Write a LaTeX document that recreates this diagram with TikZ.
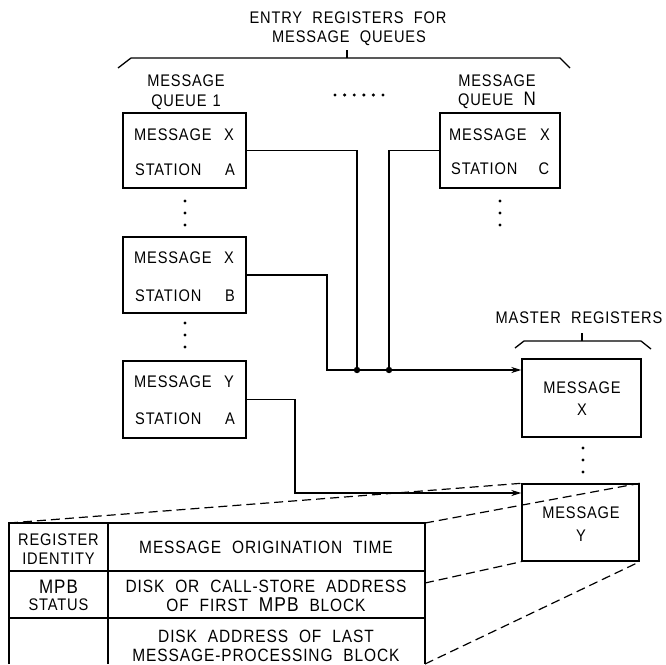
\documentclass[tikz,border=0pt]{standalone}
\usepackage{fontspec}
\setmainfont[LetterSpace=5,WordSpace=2.1,FakeStretch=0.87]{Liberation Sans}
\usetikzlibrary{arrows.meta}
\begin{document}
\begin{tikzpicture}[x=1pt,y=-1pt,
  box/.style={draw, line width=1.4pt, inner sep=0pt},
  lbl/.style={font=\fontsize{16.8}{18}\selectfont, inner sep=0pt},
  tlbl/.style={font=\fontsize{17.8}{19}\selectfont, inner sep=0pt},
  big/.style={font=\fontsize{19.5}{21}\selectfont, inner sep=0pt},
  wire/.style={line width=1.6pt},
  arr/.style={wire, -{Stealth[length=10pt,width=6pt]}},
  brc/.style={line width=1.3pt},
  tbl/.style={line width=1.3pt},
  dline/.style={line width=1.2pt, dash pattern=on 9pt off 5pt},
  vdot/.style={circle, fill, inner sep=0pt, minimum size=3.4pt}
]
\useasboundingbox (0,0) rectangle (666,664);

% header
\node[lbl] (h1) at (348,18) {ENTRY REGISTERS FOR};
\node[lbl] (h2) at (349,38) {MESSAGE QUEUES};
\draw[brc] (118,68) -- (131,58) -- (560,58) -- (570,68);
\draw[brc] (347,58) -- (347,50);

% queue labels
\node[lbl] (q1a) at (186,81) {MESSAGE};
\node[lbl] (q1b) at (186,102) {QUEUE\hspace{6pt}1};
\node[lbl] (qna) at (497,81) {MESSAGE};
\node[lbl] (qnb) at (497,100) {QUEUE {\fontsize{19.5}{21}\selectfont N}};

% horizontal dots
\foreach \i in {0,...,5} \node[vdot] (hd\i) at (335+9.6*\i,95) {};

% queue boxes
\node[box, minimum width=123pt, minimum height=75pt] (b1) at (184.5,150.5) {};
\node[box, minimum width=123pt, minimum height=76pt] (b2) at (184.5,275) {};
\node[box, minimum width=123pt, minimum height=77pt] (b3) at (184.5,399.5) {};
\node[box, minimum width=120pt, minimum height=75pt] (bN) at (500,150.5) {};

\node[lbl, anchor=west] (b1m) at (134,135) {MESSAGE};
\node[lbl] (b1x) at (229,135) {X};
\node[lbl, anchor=west] (b1s) at (135,170) {STATION};
\node[lbl] (b1y) at (230,170) {A};

\node[lbl, anchor=west] (b2m) at (134,258) {MESSAGE};
\node[lbl] (b2x) at (229,258) {X};
\node[lbl, anchor=west] (b2s) at (135,296) {STATION};
\node[lbl] (b2y) at (230,296) {B};

\node[lbl, anchor=west] (b3m) at (134,382) {MESSAGE};
\node[lbl] (b3x) at (229,382) {Y};
\node[lbl, anchor=west] (b3s) at (135,419) {STATION};
\node[lbl] (b3y) at (230,419) {A};

\node[lbl, anchor=west] (bNm) at (449,135) {MESSAGE};
\node[lbl] (bNx) at (545,135) {X};
\node[lbl, anchor=west] (bNs) at (451,169) {STATION};
\node[lbl] (bNy) at (544,169) {C};

% vertical dots
\foreach \y [count=\k] in {201,213,225} {
  \node[vdot] (va\k) at (185,\y) {};
  \node[vdot] (vn\k) at (500,\y) {};
}
\foreach \y [count=\k] in {323,335,347} \node[vdot] (vb\k) at (185,\y) {};
\foreach \y [count=\k] in {448,460,472} \node[vdot] (vm\k) at (583,\y) {};

% master registers
\node[lbl] (mr) at (579,318) {MASTER REGISTERS};
\draw[brc] (515,348) -- (524,341) -- (641,341) -- (651,349);
\draw[brc] (582,341) -- (582,333);
\node[box, minimum width=119pt, minimum height=78pt] (bX) at (581.5,398) {};
\node[lbl] (bXm) at (582,388) {MESSAGE};
\node[lbl] (bXx) at (582,410) {X};
\node[box, minimum width=117pt, minimum height=77pt] (bY) at (580.5,522.5) {};
\node[lbl] (bYm) at (581,513) {MESSAGE};
\node[lbl] (bYy) at (581,536) {Y};

% wires
\coordinate (j1) at (357,370);
\coordinate (j2) at (389,370);
\coordinate (c2) at (327,370);
\coordinate (c3) at (295,493);
\draw[wire] (b1.east) -| (j1);
\draw[wire] (bN.west) -| (j2);
\draw[arr] (b2.east) -| (c2) -- (c2 -| bX.west);
\draw[arr] (b3.east) -| (c3) -- (c3 -| bY.west);
\fill (j1) circle (3.2pt);
\fill (j2) circle (3.2pt);

% table
\coordinate (tl) at (9,523);
\coordinate (tr) at (425,523);
\coordinate (tm) at (425,583);
\coordinate (tb) at (425,664);
\draw[tbl] (9,664) -- (tl) -- (tr) -- (tb);
\draw[tbl] (108,523) -- (108,664);
\draw[tbl] (9,571) -- (425,571);
\draw[tbl] (9,618) -- (425,618);

\node[lbl] (r1a) at (58.5,540) {REGISTER};
\node[lbl] (r1b) at (58.5,559) {IDENTITY};
\node[big] (r2a) at (58.5,587) {MPB};
\node[lbl] (r2b) at (58.5,605) {STATUS};
\node[tlbl] (c1) at (266,547) {MESSAGE ORIGINATION TIME};
\node[tlbl] (c2a) at (266,586) {DISK OR CALL-STORE ADDRESS};
\node[tlbl] (c2b) at (266,605) {OF FIRST {\fontsize{20}{21}\selectfont MPB} BLOCK};
\node[tlbl] (c3a) at (266,636) {DISK ADDRESS OF LAST};
\node[tlbl] (c3b) at (266,655) {MESSAGE-PROCESSING BLOCK};

% projection lines
\draw[dline] (tl) -- (bY.north west);
\draw[dline] (tr) -- (bY.north east);
\draw[dline] (tm) -- (bY.south west);
\draw[dline] (tb) -- (bY.south east);
\end{tikzpicture}
\end{document}
